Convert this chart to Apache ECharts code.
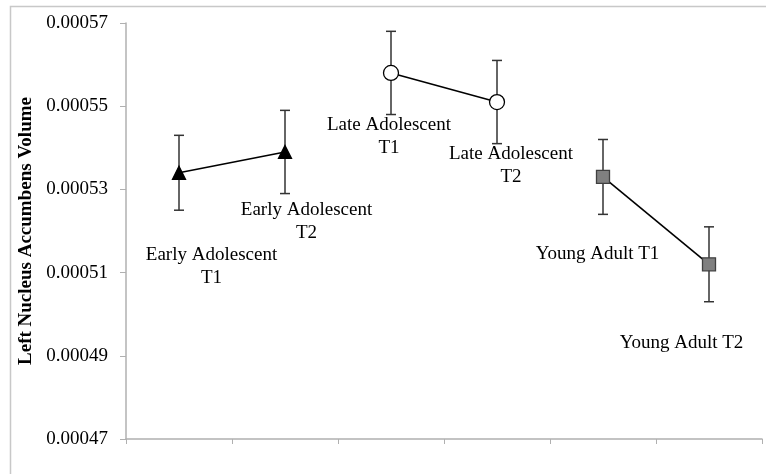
<!DOCTYPE html>
<html>
<head>
<meta charset="utf-8">
<script src="https://cdn.jsdelivr.net/npm/echarts@6/dist/echarts.min.js"></script>
<style>html,body{margin:0;padding:0;background:#fff}#c{width:766px;height:474px}</style>
</head>
<body>
<div id="c"></div>
<script>
var categories = ['EA1','EA2','LA1','LA2','YA1','YA2'];
var labelTexts = ['Early Adolescent\nT1','Early Adolescent\nT2','Late Adolescent\nT1','Late Adolescent\nT2','Young Adult T1','Young Adult T2'];
var means = [0.000534, 0.000539, 0.000558, 0.000551, 0.000533, 0.000512];
var errors = [0.0000090, 0.0000100, 0.0000100, 0.0000100, 0.0000090, 0.0000090];
var groupIndex = [0, 0, 1, 1, 2, 2];
var yTicks = [0.00047, 0.00049, 0.00051, 0.00053, 0.00055, 0.00057];

var labelOffsets = [[32.5, 94], [21.5, 69.5], [-2, 63.5], [14, 63.5], [-5.5, 77], [-27.5, 79]];
var groupStyles = [
  {symbol: 'triangle', size: 13, color: '#000', border: '#000'},
  {symbol: 'circle', size: 15, color: '#fff', border: '#000'},
  {symbol: 'rect', size: 13, color: '#808080', border: '#404040'}
];
var FONT = '"Liberation Serif", "Times New Roman", serif';

var chart = echarts.init(document.getElementById('c'));
var series = [];
for (var g = 0; g < 3; g++) {
  var d = categories.map(function (c, i) {
    if (groupIndex[i] !== g) return '-';
    return {
      value: means[i],
      label: {
        show: true,
        formatter: labelTexts[i],
        position: 'inside',
        offset: labelOffsets[i],
        fontFamily: FONT, fontSize: 19, color: '#000', lineHeight: 23, align: 'center'
      }
    };
  });
  var st = groupStyles[g];
  series.push({
    type: 'line', data: d, z: 5,
    symbol: st.symbol, symbolSize: st.size, showAllSymbol: true,
    itemStyle: {color: st.color, borderColor: st.border, borderWidth: 1.3},
    lineStyle: {color: '#000', width: 1.6},
    connectNulls: false, animation: false
  });
}
series.push({
  type: 'custom', z: 2, animation: false,
  data: categories.map(function (c, i) { return [i, means[i] - errors[i], means[i] + errors[i]]; }),
  renderItem: function (params, api) {
    var lo = api.coord([api.value(0), api.value(1)]);
    var hi = api.coord([api.value(0), api.value(2)]);
    var w = 5;
    var s = {stroke: '#333', lineWidth: 1.5};
    return {type: 'group', children: [
      {type: 'line', shape: {x1: lo[0], y1: lo[1], x2: hi[0], y2: hi[1]}, style: s},
      {type: 'line', shape: {x1: lo[0] - w, y1: lo[1], x2: lo[0] + w, y2: lo[1]}, style: s},
      {type: 'line', shape: {x1: hi[0] - w, y1: hi[1], x2: hi[0] + w, y2: hi[1]}, style: s}
    ]};
  }
});

chart.setOption({
  animation: false,
  backgroundColor: '#fff',
  grid: {left: 126, right: 4, top: 23, bottom: 35, containLabel: false},
  graphic: [{type: 'rect', shape: {x: 10.5, y: 6.5, width: 800, height: 500}, style: {fill: 'none', stroke: '#c8c8c8', lineWidth: 1.5}, silent: true}],
  xAxis: {
    type: 'category', data: categories, boundaryGap: true,
    axisLine: {lineStyle: {color: '#b0b0b0', width: 1.5}},
    axisTick: {show: true, alignWithLabel: false, length: 5, lineStyle: {color: '#b0b0b0'}},
    axisLabel: {show: false}, splitLine: {show: false}
  },
  yAxis: {
    type: 'value', min: yTicks[0], max: yTicks[yTicks.length - 1], interval: 0.00002,
    name: 'Left Nucleus Accumbens Volume', nameLocation: 'middle', nameGap: 84, nameRotate: 90,
    nameTextStyle: {fontFamily: FONT, fontSize: 19, fontWeight: 'bold', color: '#000'},
    axisLine: {show: true, lineStyle: {color: '#b0b0b0', width: 1.5}},
    axisTick: {show: true, length: 6, lineStyle: {color: '#b0b0b0'}},
    axisLabel: {fontFamily: FONT, fontSize: 19, color: '#000', margin: 18, formatter: function (v) { return v.toFixed(5); }},
    splitLine: {show: false}
  },
  series: series
});
</script>
</body>
</html>
